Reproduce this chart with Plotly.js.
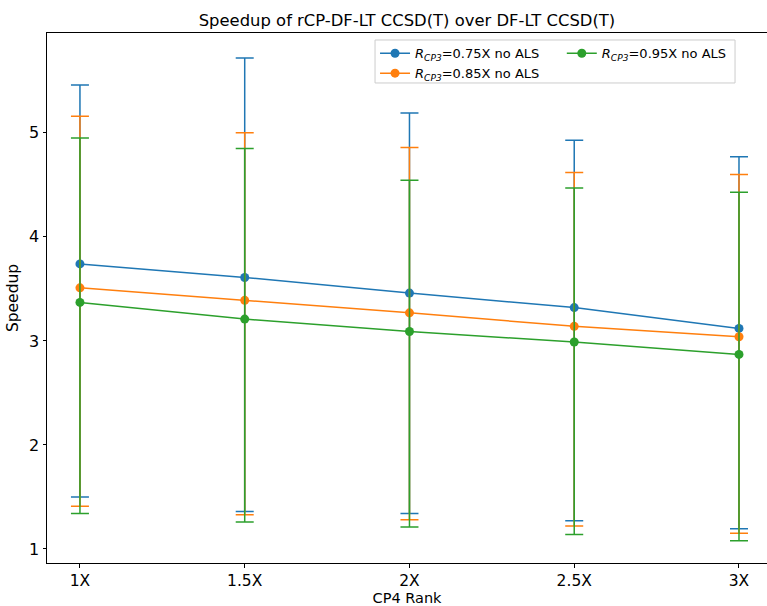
<!DOCTYPE html>
<html>
<head>
<meta charset="utf-8">
<script src="https://cdn.plot.ly/plotly-3.0.1.min.js"></script>
<style>html,body{margin:0;padding:0;background:#fff;}#chart{width:767px;height:606px;}</style>
</head>
<body>
<div id="chart"></div>
<script>
const categories = ["1X", "1.5X", "2X", "2.5X", "3X"];
const seriesNames = [
  "<i>R</i><sub><i>CP3</i></sub>=0.75X no ALS",
  "<i>R</i><sub><i>CP3</i></sub>=0.85X no ALS",
  "<i>R</i><sub><i>CP3</i></sub>=0.95X no ALS"
];
const colors = ["#1f77b4", "#ff7f0e", "#2ca02c"];

const mean075 = [3.74, 3.61, 3.46, 3.32, 3.12];
const upper075 = [5.46, 5.72, 5.19, 4.93, 4.77];
const lower075 = [1.50, 1.36, 1.34, 1.27, 1.195];

const mean085 = [3.51, 3.39, 3.27, 3.14, 3.04];
const upper085 = [5.16, 5.00, 4.86, 4.62, 4.60];
const lower085 = [1.41, 1.33, 1.28, 1.22, 1.15];

const mean095 = [3.37, 3.21, 3.09, 2.99, 2.87];
const upper095 = [4.95, 4.85, 4.545, 4.47, 4.43];
const lower095 = [1.34, 1.26, 1.21, 1.14, 1.08];

const means = [mean075, mean085, mean095];
const uppers = [upper075, upper085, upper095];
const lowers = [lower075, lower085, lower095];
const legendIds = ["legend", "legend", "legend2"];

const xIdx = categories.map((c, i) => i);

const traces = means.map((m, k) => ({
  type: "scatter",
  mode: "lines+markers",
  x: xIdx,
  y: m,
  name: seriesNames[k],
  legend: legendIds[k],
  line: {color: colors[k], width: 1.5},
  marker: {color: colors[k], size: 9},
  error_y: {
    type: "data",
    symmetric: false,
    array: uppers[k].map((u, i) => u - m[i]),
    arrayminus: m.map((v, i) => v - lowers[k][i]),
    color: colors[k],
    thickness: 1.5,
    width: 9
  }
}));

const legendStyle = {
  orientation: "v",
  yanchor: "top",
  xanchor: "left",
  bgcolor: "rgba(0,0,0,0)",
  borderwidth: 0,
  font: {family: "DejaVu Sans", size: 13, color: "#000"},
  traceorder: "normal",
  tracegroupgap: 0
};

const layout = {
  width: 767,
  height: 606,
  margin: {l: 47, r: 0, t: 33, b: 43},
  paper_bgcolor: "#fff",
  plot_bgcolor: "#fff",
  font: {family: "DejaVu Sans", color: "#000"},
  title: {
    text: "Speedup of rCP-DF-LT CCSD(T) over DF-LT CCSD(T)",
    font: {family: "DejaVu Sans", size: 16.4, color: "#000"},
    x: 0.5, xref: "paper", y: 0.967, yanchor: "middle"
  },
  xaxis: {
    range: [-0.2, 4.17],
    tickvals: xIdx,
    ticktext: categories,
    showgrid: false,
    zeroline: false,
    showline: true,
    linecolor: "#000",
    linewidth: 1,
    mirror: true,
    ticks: "outside",
    ticklen: 3.5,
    tickcolor: "#000",
    tickfont: {family: "DejaVu Sans", size: 15.5, color: "#000"},
    title: {text: "CP4 Rank", font: {family: "DejaVu Sans", size: 14.5, color: "#000"}, standoff: 8}
  },
  yaxis: {
    range: [0.865, 5.96],
    tickvals: [1, 2, 3, 4, 5],
    showgrid: false,
    zeroline: false,
    showline: true,
    linecolor: "#000",
    linewidth: 1,
    ticks: "outside",
    ticklen: 3.5,
    tickcolor: "#000",
    tickfont: {family: "DejaVu Sans", size: 16, color: "#000"},
    title: {text: "Speedup", font: {family: "DejaVu Sans", size: 15.5, color: "#000"}, standoff: 6}
  },
  showlegend: true,
  legend: Object.assign({x: 0.4556, y: 0.99}, legendStyle),
  legend2: Object.assign({x: 0.715, y: 0.99}, legendStyle),
  shapes: [{
    type: "rect",
    xref: "paper", yref: "paper",
    x0: 0.4556, x1: 0.9556, y0: 0.9057, y1: 0.9868,
    fillcolor: "rgba(255,255,255,0.8)",
    line: {color: "#cccccc", width: 1},
    layer: "above"
  }]
};

Plotly.newPlot("chart", traces, layout, {displayModeBar: false, staticPlot: true});
</script>
</body>
</html>
